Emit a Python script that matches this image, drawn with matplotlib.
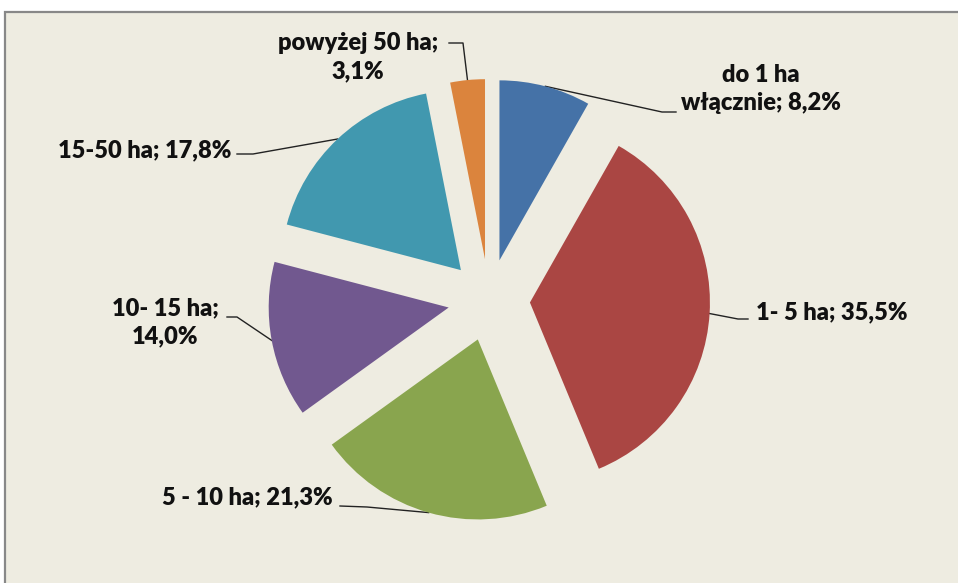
import numpy as np
import matplotlib
matplotlib.use('Agg')
import matplotlib.pyplot as plt
from matplotlib.patches import Rectangle

# Dane: udzial gospodarstw wg powierzchni
kategorie = ['do 1 ha\nwłącznie', '1- 5 ha', '5 - 10 ha', '10- 15 ha', '15-50 ha', 'powyżej 50 ha']
udzialy = [8.2, 35.5, 21.3, 14.0, 17.8, 3.1]
kolory = ['#4572A7', '#AA4643', '#89A54E', '#71588F', '#4198AF', '#DB843D']
# separator miedzy nazwa a wartoscia (nowa linia dla niektorych etykiet)
separatory = ['; ', '; ', '; ', ';\n', '; ', ';\n']

W, H = 958, 583
fig = plt.figure(figsize=(W / 100, H / 100), dpi=100)
fig.patch.set_facecolor('white')
ax = fig.add_axes([0, 0, 1, 1])


def py(y):
    # wspolrzedna y liczona od gory obrazka
    return H - y


# tlo obszaru wykresu z szara ramka
ax.add_patch(Rectangle((5, -20), W + 20, py(12) + 20, facecolor='#EEECE1',
                       edgecolor='#888888', linewidth=1.6, zorder=0, clip_on=False))

r = 180
wedges, _ = ax.pie(udzialy, colors=kolory, startangle=90, counterclock=False,
                   explode=[41] * len(udzialy), radius=r, center=(489, py(300)),
                   wedgeprops=dict(linewidth=0), frame=False)
for w in wedges:
    w.set_zorder(2)

# pozycje etykiet (srodek tekstu) i punkt zalamania linii odniesienia
etykiety_xy = [(761, 89), (832, 312), (247, 497), (165, 322), (145, 150), (358, 57)]
lamanie = [[(662, 112), (676, 112)],
           [(738, 319), (748, 319)],
           [(367, 507), (340, 506)],
           [(237, 317), (227, 317)],
           [(253, 154), (237, 154)],
           [(463, 43), (449, 43)]]

for w, kat, sep, val, (tx, ty), pts in zip(wedges, kategorie, separatory, udzialy,
                                            etykiety_xy, lamanie):
    tekst = kat + sep + f'{val:.1f}%'.replace('.', ',')
    ax.text(tx, py(ty), tekst, ha='center', va='center', fontsize=17,
            fontweight='heavy', family='Lato', color='#111111',
            linespacing=1.35, zorder=3)
    # punkt na luku klina
    th = np.deg2rad((w.theta1 + w.theta2) / 2)
    ax0 = w.center[0] + w.r * np.cos(th)
    ay0 = w.center[1] + w.r * np.sin(th)
    xs = [ax0] + [p[0] for p in pts]
    ys = [ay0] + [py(p[1]) for p in pts]
    ax.plot(xs, ys, color='#222222', linewidth=1.0, zorder=1)

ax.set_xlim(0, W)
ax.set_ylim(0, H)
ax.set_aspect('auto')
ax.axis('off')

fig.savefig('out.png', dpi=100, facecolor='white')
